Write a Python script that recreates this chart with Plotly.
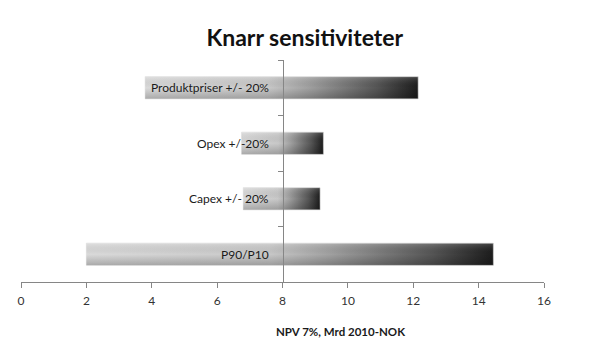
import plotly.graph_objects as go

categories = ["P90/P10", "Capex +/- 20%", "Opex +/-20%", "Produktpriser +/- 20%"]
low_values = [2.0, 6.8, 6.75, 3.8]
high_values = [14.45, 9.15, 9.25, 12.15]
base_value = 8
x_ticks = [0, 2, 4, 6, 8, 10, 12, 14, 16]

half = 0.2
fig = go.Figure()

h_scale = [[0.0, "#dadada"], [0.45, "#c8c8c8"], [0.6, "#a0a0a0"],
           [0.85, "#555555"], [1.0, "#1c1c1c"]]
v_scale = [[0.0, "rgba(0,0,0,0.22)"], [0.5, "rgba(0,0,0,0)"], [1.0, "rgba(255,255,255,0.18)"]]

for i, (lo, hi) in enumerate(zip(low_values, high_values)):
    xs = [lo, hi, hi, lo, lo]
    ys = [i - half, i - half, i + half, i + half, i - half]
    fig.add_trace(go.Scatter(
        x=xs, y=ys, mode="lines", fill="toself",
        line=dict(width=0.6, color="#d8d8d8"),
        fillgradient=dict(type="horizontal", colorscale=h_scale),
        hoverinfo="skip", showlegend=False))
    fig.add_trace(go.Scatter(
        x=xs, y=ys, mode="lines", fill="toself",
        line=dict(width=0),
        fillgradient=dict(type="vertical", colorscale=v_scale),
        hoverinfo="skip", showlegend=False))

for i, name in enumerate(categories):
    fig.add_annotation(x=base_value, y=i, xref="x", yref="y", text=name,
                       showarrow=False, xanchor="right", yanchor="middle",
                       xshift=-12, font=dict(family="Lato", size=12, color="#1a1a1a"))

fig.add_annotation(x=0.61, y=-0.225, xref="paper", yref="paper",
                   text="<b>NPV 7%, Mrd 2010-NOK</b>", showarrow=False,
                   xanchor="center", yanchor="middle",
                   font=dict(family="Lato", size=11.5, color="#1a1a1a"))

fig.update_layout(
    width=600, height=351,
    margin=dict(l=21, r=56, t=60, b=69),
    paper_bgcolor="white", plot_bgcolor="white",
    title=dict(text="<b>Knarr sensitiviteter</b>", x=0.508, xanchor="center",
               y=0.892, yanchor="middle",
               font=dict(family="Lato", size=23, color="#111111")),
    xaxis=dict(range=[0, 16], tickvals=x_ticks, ticktext=[str(v) for v in x_ticks],
               showgrid=False, zeroline=False, showline=True, linecolor="#868686",
               linewidth=1, ticks="outside", ticklen=5, tickcolor="#868686",
               ticklabelstandoff=3,
               tickfont=dict(family="Lato", size=12, color="#333333"), fixedrange=True),
    yaxis=dict(range=[-0.5, 3.5], showgrid=False, zeroline=False, showline=True,
               linecolor="#868686", linewidth=1, anchor="free", position=0.5,
               tickvals=[0.5, 1.5, 2.5, 3.5], showticklabels=False,
               ticks="outside", ticklen=5, tickcolor="#868686", fixedrange=True),
)

fig.write_html("out.html")
